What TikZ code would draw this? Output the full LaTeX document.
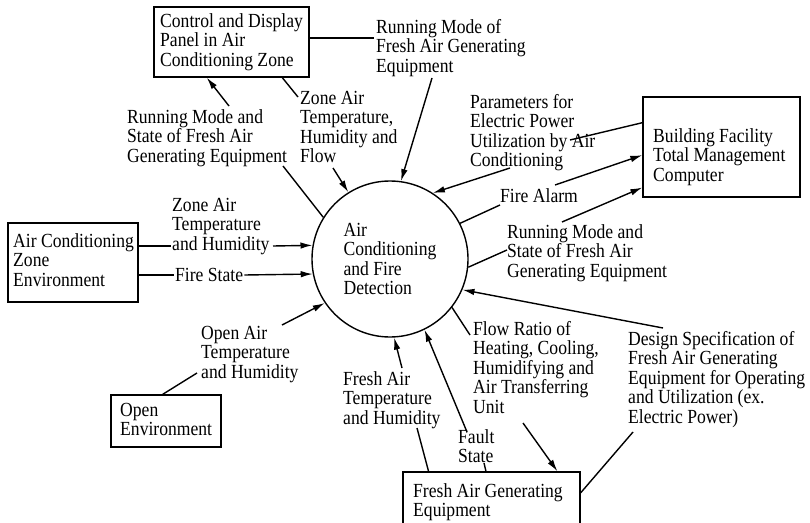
\documentclass[tikz,border=0pt]{standalone}
\usepackage{fontspec}
\setmainfont{Liberation Serif}[FakeStretch=0.88]
\usetikzlibrary{arrows.meta,calc}

\begin{document}
\begin{tikzpicture}[x=1pt,y=-1pt,
  every node/.style={font=\fontsize{20}{19.5}\selectfont},
  lbl/.style={anchor=north west, align=left, inner sep=0pt},
  frame/.style={draw, line width=1.3pt, inner sep=0pt},
  flow/.style={line width=1.4pt},
  arr/.style={flow, -{Latex[length=12pt,width=6.5pt]}},
]
\useasboundingbox (0,0) rectangle (810,522);

% central process
\node[draw, circle, line width=1.4pt, minimum size=156pt, inner sep=0pt, align=left] (acf) at (390,259)
  {Air\\Conditioning\\and Fire\\Detection};

% external entities
\node[frame, minimum width=155pt, minimum height=70pt] (ctrl) at (231.5,42) {};
\node[lbl] (ctrl-t) at (160,13) {Control and Display\\Panel in Air\\Conditioning Zone};

\node[frame, minimum width=157pt, minimum height=100pt] (bfc) at (721.5,147) {};
\node[lbl] (bfc-t) at (653,128) {Building Facility\\Total Management\\Computer};

\node[frame, minimum width=130pt, minimum height=79pt] (zenv) at (73,262.5) {};
\node[lbl] (zenv-t) at (13,233) {Air Conditioning\\Zone\\Environment};

\node[frame, minimum width=110pt, minimum height=52pt] (openenv) at (166,421) {};
\node[lbl] (openenv-t) at (120,403) {Open\\Environment};

\node[frame, minimum width=177pt, minimum height=68pt] (fag) at (491.5,506) {};
\node[lbl] (fag-t) at (413,483) {Fresh Air Generating\\Equipment};

% flow labels
\node[lbl] (l1) at (376,19) {Running Mode of\\Fresh Air Generating\\Equipment};
\node[lbl] (l2) at (300,91) {Zone Air\\Temperature,\\Humidity and\\Flow};
\node[lbl] (l3) at (127,109) {Running Mode and\\State of Fresh Air\\Generating Equipment};
\node[lbl] (l4) at (470,94) {Parameters for\\Electric Power\\Utilization by Air\\Conditioning};
\node[lbl] (l5) at (500,188) {Fire Alarm};
\node[lbl] (l6) at (507,224) {Running Mode and\\State of Fresh Air\\Generating Equipment};
\node[lbl] (l7) at (172,198) {Zone Air\\Temperature\\and Humidity};
\node[anchor=west, inner xsep=1pt, inner ysep=0pt] (l8) at (174,275) {Fire State};
\node[lbl] (l9) at (201,326) {Open Air\\Temperature\\and Humidity};
\node[lbl] (l10) at (343,371) {Fresh Air\\Temperature\\and Humidity};
\node[lbl] (l11) at (458,429) {Fault\\State};
\node[lbl] (l12) at (473,321) {Flow Ratio of\\Heating, Cooling,\\Humidifying and\\Air Transferring\\Unit};
\node[lbl] (l13) at (628,331) {Design Specification of\\Fresh Air Generating\\Equipment for Operating\\and Utilization (ex.\\Electric Power)};

% connector ends at the labels
\coordinate (p1a) at (374,38);
\coordinate (p1b) at (432,78);
\coordinate (p2a) at (298,97);
\coordinate (p2b) at (333,168);
\coordinate (p3a) at (283,166);
\coordinate (p3b) at (229,106);
\coordinate (p4a) at (570,140);
\coordinate (p4b) at (510,168);
\coordinate (p5a) at (500,205);
\coordinate (p5b) at (555,185);
\coordinate (p6a) at (507,250);
\coordinate (p6b) at (562,222);
\coordinate (p7a) at (171,246);
\coordinate (p7b) at (273,246);
\coordinate (p9a) at (282,325);
\coordinate (p9b) at (197,373);
\coordinate (p10a) at (402,368);
\coordinate (p10b) at (417,428);
\coordinate (p11a) at (467,432);
\coordinate (p11b) at (484,463);
\coordinate (p12a) at (470,335);
\coordinate (p12b) at (523,423);
\coordinate (p13a) at (663,328);
\coordinate (p13b) at (633,432);

% running mode to the process
\draw[flow] (ctrl.east |- p1a) -- (p1a);
\draw[arr] (p1b) -- (acf.82.8);
% zone air temperature, humidity and flow
\draw[flow] ($(ctrl.south west)!0.825!(ctrl.south east)$) -- (p2a);
\draw[arr] (p2b) -- (acf.122.3);
% running mode and state to the panel
\draw[flow] (acf.148.9) -- (p3a);
\draw[arr] (p3b) -- ($(ctrl.south west)!0.342!(ctrl.south east)$);
% electric power parameters
\draw[flow] ($(bfc.north west)!0.26!(bfc.south west)$) -- (p4a);
\draw[arr] (p4b) -- (acf.57.3);
% fire alarm
\draw[flow] (acf.27.2) -- (p5a);
\draw[arr] (p5b) -- ($(bfc.north west)!0.58!(bfc.south west)$);
% running mode and state to the computer
\draw[flow] (acf.-6.7) -- (p6a);
\draw[arr] (p6b) -- ($(bfc.north west)!0.9!(bfc.south west)$);
% zone environment
\draw[flow] (zenv.east |- p7a) -- (p7a);
\draw[arr] (p7b) -- (acf.170);
\draw[flow] (zenv.east |- l8.west) -- (l8.west);
\draw[arr] (l8.east) -- (acf.191.8);
% open environment
\draw[arr] (p9a) -- (acf.214.1);
\draw[flow] (p9b) -- ($(openenv.north west)!0.47!(openenv.north east)$);
% fresh air generating equipment
\draw[arr] (p10a) -- (acf.273);
\draw[flow] (p10b) -- ($(fag.north west)!0.147!(fag.north east)$);
\draw[arr] (p11a) -- (acf.296.6);
\draw[flow] (p11b) -- ($(fag.north west)!0.469!(fag.north east)$);
\draw[flow] (acf.-38.7) -- (p12a);
\draw[arr] (p12b) -- ($(fag.north west)!0.87!(fag.north east)$);
\draw[arr] (p13a) -- (acf.-23);
\draw[flow] ($(fag.north east)!0.31!(fag.south east)$) -- (p13b);
\end{tikzpicture}
\end{document}
